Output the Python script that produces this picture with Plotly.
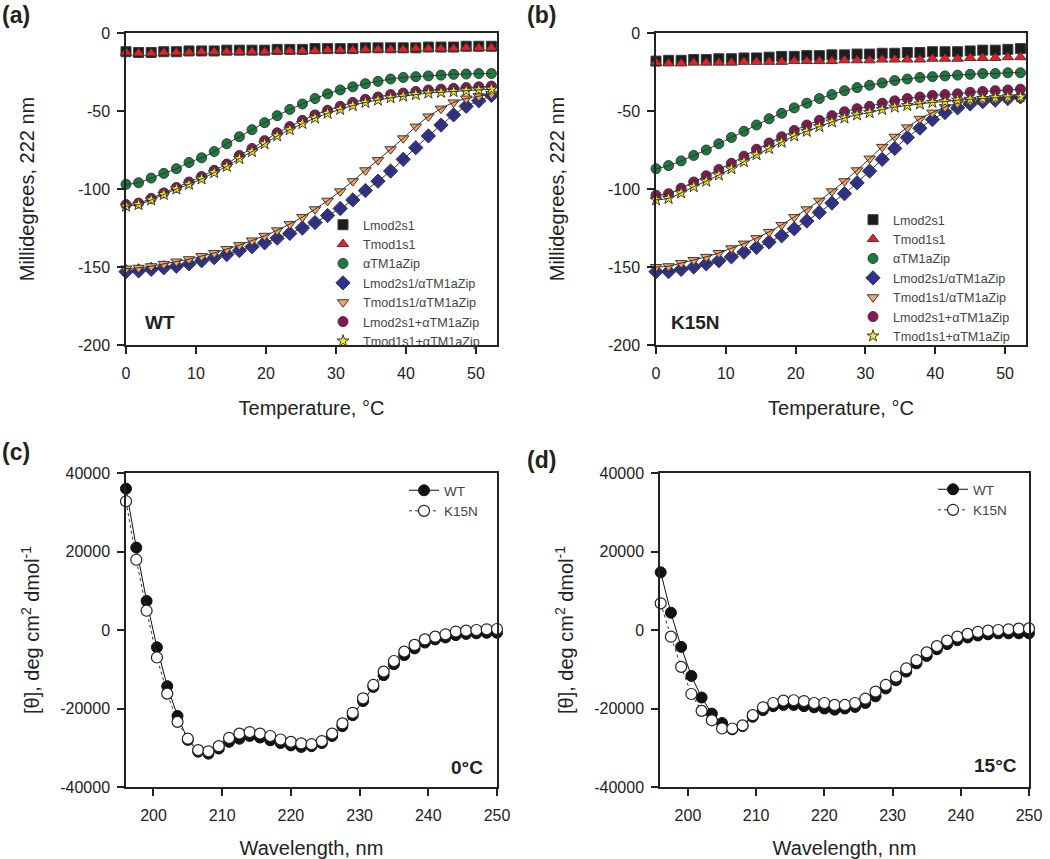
import plotly.graph_objects as go

# ---------------- data ----------------
temps = [0.0, 1.8, 3.6, 5.4, 7.2, 9.0, 10.8, 12.6, 14.4, 16.2, 18.0, 19.8, 21.6, 23.4, 25.2,
         27.0, 28.8, 30.6, 32.4, 34.2, 36.0, 37.8, 39.6, 41.4, 43.2, 45.0, 46.8, 48.6, 50.4, 52.2]

series_names = ["Lmod2s1", "Tmod1s1", "\u03b1TM1aZip", "Lmod2s1/\u03b1TM1aZip",
                "Tmod1s1/\u03b1TM1aZip", "Lmod2s1+\u03b1TM1aZip", "Tmod1s1+\u03b1TM1aZip"]

# Panel (a) WT
a_lmod = [-12, -12.5, -12.5, -12, -12, -11.5, -11.5, -11.5, -11, -11, -11, -11, -10.5, -10.5, -10.5,
          -10, -10, -10, -10, -9.5, -9.5, -9.5, -9.5, -9.5, -9, -9, -9, -8.5, -8.5, -8.5]
a_tmod = [-12.5, -13, -13, -12.5, -12.5, -12.5, -12, -12, -12, -12, -12, -12, -11.5, -11.5, -11.5,
          -11.5, -11, -11, -11, -10.5, -10.5, -10.5, -10.5, -10, -10, -10, -10, -9.5, -9.5, -9.5]
a_tm = [-97, -96, -93, -90, -87, -83, -80, -76, -71, -66.5, -62, -57.5, -53, -49, -45.5,
        -42, -39, -36.5, -34.5, -32.5, -31, -29.5, -28.5, -28, -27.5, -27, -26.5, -26.3, -26, -26]
a_lmod_tm = [-153, -152.5, -151.5, -150.5, -149.5, -148, -146, -144, -142, -139.5, -137, -134.5, -131.5, -128.5, -125,
             -121.5, -117, -112.5, -107, -101, -95, -88.5, -81, -73.5, -66, -59, -52.5, -47, -43.5, -40]
a_tmod_tm = [-151, -150.5, -149.5, -148, -146.5, -145, -143, -141, -138.5, -136, -133, -130, -126.5, -122.5, -118,
             -113, -107.5, -101.5, -95, -88, -81.5, -74.5, -67.5, -60, -53.5, -48.5, -44.5, -42, -40.5, -39]
a_lmod_plus = [-110, -109, -106, -102.5, -99, -95.5, -92, -88, -84, -78.5, -74, -69, -64, -60, -56,
               -52.5, -49.5, -47, -44.5, -42.5, -41, -39.5, -38.5, -37.5, -36.5, -36, -35.5, -35, -34.5, -34]
a_tmod_plus = [-111, -110, -107, -103.5, -100, -97, -93.5, -89.5, -85.5, -80.5, -76, -71, -66, -62, -58,
               -54.5, -51.5, -49, -46.5, -44.5, -43, -41.5, -40.5, -39.5, -38.5, -38, -37.5, -37, -36.5, -36]

# Panel (b) K15N
b_lmod = [-18, -17.5, -17.5, -17, -17, -16.5, -16.5, -16, -16, -15.5, -15, -15, -14.5, -14.5, -14,
          -14, -13.5, -13.5, -13, -13, -12.5, -12.5, -12, -12, -12, -11.5, -11, -11, -10.5, -10]
b_tmod = [-19, -19.5, -19.5, -19, -19, -19, -19, -18.5, -18.5, -18.5, -18.5, -18, -18, -18, -18,
          -17.5, -17.5, -17.5, -17, -17, -17, -17, -16.5, -16.5, -16.5, -16, -16, -16, -15.5, -15.5]
b_tm = [-87, -85, -82, -78.5, -75, -71, -67, -63, -59, -55, -51.5, -48, -45, -42, -39.5,
        -37, -35, -33.5, -32, -30.5, -29.5, -28.5, -28, -27.5, -27, -26.5, -26, -26, -25.5, -25.5]
b_lmod_tm = [-153, -153, -151.5, -150, -148, -146, -143.5, -140.5, -137.5, -134, -130, -125.5, -120.5, -115, -109,
             -103, -96, -88.5, -81, -74, -67, -61, -55.5, -51, -48, -45.5, -44, -43, -42, -41]
b_tmod_tm = [-150, -149.5, -147.5, -145.5, -143.5, -141, -138, -135, -131.5, -127.5, -123, -118, -113, -107.5, -101.5,
             -95, -88, -80.5, -73, -66.5, -60.5, -55, -51, -47.5, -45, -43.5, -42.5, -42, -41.5, -41]
b_lmod_plus = [-104, -103, -99.5, -95.5, -91.5, -87.5, -83.5, -79, -74.5, -70.5, -66.5, -62.5, -59, -56, -53,
               -50.5, -48.5, -47, -45, -43.5, -42, -41, -40, -39.5, -39, -38, -37.5, -37, -36.5, -36]
b_tmod_plus = [-107, -106, -102.5, -98.5, -95, -91, -87, -82.5, -78, -74, -70, -66, -63, -60, -57,
               -54.5, -52.5, -51, -49, -47.5, -46.5, -45.5, -44.5, -44, -43, -42.5, -42, -41.5, -41, -41]

# Panels (c), (d) wavelength scans
wavelengths = [196, 197.5, 199, 200.5, 202, 203.5, 205, 206.5, 208, 209.5, 211, 212.5, 214, 215.5, 217,
               218.5, 220, 221.5, 223, 224.5, 226, 227.5, 229, 230.5, 232, 233.5, 235, 236.5, 238, 239.5,
               241, 242.5, 244, 245.5, 247, 248.5, 250]
c_wt = [36000, 21000, 7400, -4400, -14300, -21900, -28000, -31000, -31500, -30200, -28500, -27700, -27000,
        -27400, -28100, -28800, -29400, -29800, -29600, -28800, -27000, -24500, -21700, -18100, -14500,
        -11500, -8700, -6400, -4700, -3200, -2400, -1900, -1300, -1000, -850, -700, -700]
c_k15n = [32800, 17900, 4900, -7000, -16200, -23400, -27700, -30600, -30900, -29600, -27500, -26400, -26000,
          -26400, -27000, -27900, -28500, -28900, -29100, -28300, -26400, -23800, -21100, -17400, -14000,
          -10600, -7900, -5500, -3800, -2400, -1700, -1100, -400, -170, 0, 170, 250]
d_wt = [14700, 4400, -4300, -11700, -17200, -21300, -23700, -25300, -24500, -22100, -20400, -19400, -19100,
        -19100, -19400, -19700, -20000, -20300, -20000, -19600, -18600, -16900, -14900, -12800, -10600,
        -8500, -6600, -4900, -3600, -2600, -1900, -1400, -1100, -850, -850, -850, -850]
d_k15n = [6800, -1700, -9400, -16300, -20600, -23000, -25100, -25100, -24300, -21700, -19700, -18600, -18000,
          -17900, -18100, -18600, -18600, -19100, -19100, -18600, -17500, -15700, -14000, -11900, -9800,
          -7700, -5700, -4100, -2700, -1700, -1000, -500, -170, 0, 170, 340, 400]

temp_ticks = [0, 10, 20, 30, 40, 50]
mdeg_ticks = [0, -50, -100, -150, -200]
mdeg_ticktext = ["0", "-50", "-100", "-150", "-200"]
wl_ticks = [200, 210, 220, 230, 240, 250]
theta_ticks = [40000, 20000, 0, -20000, -40000]
theta_ticktext = ["40000", "20000", "0", "-20000", "-40000"]

# ---------------- styles ----------------
FONT = "Liberation Sans, Arial, sans-serif"
TXT = "#222222"
styles = [
    dict(symbol="square", color="#1c1c1c", size=10),
    dict(symbol="triangle-up", color="#ee1c24", size=10),
    dict(symbol="circle", color="#1b7a3e", size=10),
    dict(symbol="diamond", color="#2e3192", size=11),
    dict(symbol="triangle-down", color="#f7a160", size=10),
    dict(symbol="circle", color="#8c1456", size=10),
    dict(symbol="star", color="#f5e923", size=9),
]
fitted = [False, False, True, True, True, True, True]

fig = go.Figure()

panels = [
    ("x", "y", "legend", [a_lmod, a_tmod, a_tm, a_lmod_tm, a_tmod_tm, a_lmod_plus, a_tmod_plus]),
    ("x2", "y2", "legend2", [b_lmod, b_tmod, b_tm, b_lmod_tm, b_tmod_tm, b_lmod_plus, b_tmod_plus]),
]
for xa, ya, lg, data in panels:
    for name, st, vals, fit in zip(series_names, styles, data, fitted):
        fig.add_trace(go.Scatter(
            x=temps, y=vals, name=name, mode="markers", xaxis=xa, yaxis=ya, legend=lg,
            cliponaxis=False,
            marker=dict(symbol=st["symbol"], size=st["size"], color=st["color"],
                        line=dict(color="#3a3a3a", width=1)),
        ))
        if fit:
            fig.add_trace(go.Scatter(
                x=temps, y=vals, mode="lines", xaxis=xa, yaxis=ya, showlegend=False,
                hoverinfo="skip", line=dict(color="#333333", width=1), line_shape="spline",
            ))

for xa, ya, lg, wt, k in [("x3", "y3", "legend3", c_wt, c_k15n), ("x4", "y4", "legend4", d_wt, d_k15n)]:
    fig.add_trace(go.Scatter(
        x=wavelengths, y=wt, name="WT", mode="lines+markers", xaxis=xa, yaxis=ya, legend=lg,
        cliponaxis=False,
        line=dict(color="#111111", width=1),
        marker=dict(symbol="circle", size=11, color="#111111", line=dict(color="#111111", width=1)),
    ))
    fig.add_trace(go.Scatter(
        x=wavelengths, y=k, name="K15N", mode="lines+markers", xaxis=xa, yaxis=ya, legend=lg,
        cliponaxis=False,
        line=dict(color="#333333", width=1, dash="dot"),
        marker=dict(symbol="circle", size=11, color="white", line=dict(color="#222222", width=1.2)),
    ))

axis_common = dict(showline=True, linecolor="#222222", linewidth=1.5, mirror=True,
                   ticks="outside", ticklen=7, tickwidth=1.5, tickcolor="#222222",
                   showgrid=False, zeroline=False, automargin=False,
                   tickfont=dict(family=FONT, size=16, color=TXT))

top_dom = [1 - 345 / 859, 1 - 33 / 859]
bot_dom = [1 - 787 / 859, 1 - 473 / 859]

def xax(dom, rng, tv, anchor, title, standoff):
    return dict(axis_common, domain=dom, range=rng, tickvals=tv, anchor=anchor,
                ticklabelstandoff=6,
                title=dict(text=title, font=dict(family=FONT, size=20, color=TXT), standoff=standoff))

def yax(dom, rng, tv, tt, anchor, title, standoff, tsize):
    return dict(axis_common, domain=dom, range=rng, tickvals=tv, ticktext=tt, anchor=anchor,
                ticklabelstandoff=4,
                title=dict(text=title, font=dict(family=FONT, size=tsize, color=TXT), standoff=standoff))

ytitle_t = "Millidegrees, 222 nm"
ytitle_b = "[\u03b8], deg cm<sup>2</sup> dmol<sup>-1</sup>"

legend_common = dict(bgcolor="rgba(0,0,0,0)", font=dict(family=FONT, size=12.6, color="#444444"),
                     xanchor="left", yanchor="top", tracegroupgap=0)
legend_small = dict(legend_common, font=dict(family=FONT, size=13.5, color="#444444"))

fig.update_layout(
    width=1050, height=859, margin=dict(l=0, r=0, t=0, b=0),
    paper_bgcolor="white", plot_bgcolor="white",
    font=dict(family=FONT, color=TXT),
    xaxis=xax([126 / 1050, 497 / 1050], [0, 53], temp_ticks, "y", "Temperature, \u00b0C", 20),
    yaxis=yax(top_dom, [-200, 0], mdeg_ticks, mdeg_ticktext, "x", ytitle_t, 38, 20),
    xaxis2=xax([656 / 1050, 1026 / 1050], [0, 53], temp_ticks, "y2", "Temperature, \u00b0C", 20),
    yaxis2=yax(top_dom, [-200, 0], mdeg_ticks, mdeg_ticktext, "x2", ytitle_t, 38, 20),
    xaxis3=xax([126 / 1050, 497 / 1050], [196, 250], wl_ticks, "y3", "Wavelength, nm", 20),
    yaxis3=yax(bot_dom, [-40000, 40000], theta_ticks, theta_ticktext, "x3", ytitle_b, 15, 20),
    xaxis4=xax([660 / 1050, 1029 / 1050], [195.9, 250], wl_ticks, "y4", "Wavelength, nm", 20),
    yaxis4=yax(bot_dom, [-40000, 40000], theta_ticks, theta_ticktext, "x4", ytitle_b, 15, 20),
    legend=dict(legend_common, x=323 / 1050, y=1 - 210 / 859),
    legend2=dict(legend_common, x=853 / 1050, y=1 - 205 / 859),
    legend3=dict(legend_small, x=404 / 1050, y=1 - 475 / 859),
    legend4=dict(legend_small, x=933 / 1050, y=1 - 474 / 859),
)

ann_font = dict(family=FONT, size=19, color=TXT)
lab_font = dict(family=FONT, size=23, color=TXT)
annotations = [
    dict(text="<b>(a)</b>", x=0.0, y=1 - 15 / 859, xanchor="left", font=lab_font),
    dict(text="<b>(b)</b>", x=525 / 1050, y=1 - 15 / 859, xanchor="left", font=lab_font),
    dict(text="<b>(c)</b>", x=0.0, y=1 - 452 / 859, xanchor="left", font=lab_font),
    dict(text="<b>(d)</b>", x=525 / 1050, y=1 - 460 / 859, xanchor="left", font=lab_font),
    dict(text="<b>WT</b>", x=160 / 1050, y=1 - 323 / 859, xanchor="center", font=ann_font),
    dict(text="<b>K15N</b>", x=695 / 1050, y=1 - 323 / 859, xanchor="center", font=ann_font),
    dict(text="<b>0\u00b0C</b>", x=467 / 1050, y=1 - 767 / 859, xanchor="center", font=ann_font),
    dict(text="<b>15\u00b0C</b>", x=995 / 1050, y=1 - 765 / 859, xanchor="center", font=ann_font),
]
for a in annotations:
    fig.add_annotation(xref="paper", yref="paper", yanchor="middle", showarrow=False, **a)

fig.write_html("out.html", config={"displayModeBar": False},
               post_script="document.body.style.margin='0px';")
